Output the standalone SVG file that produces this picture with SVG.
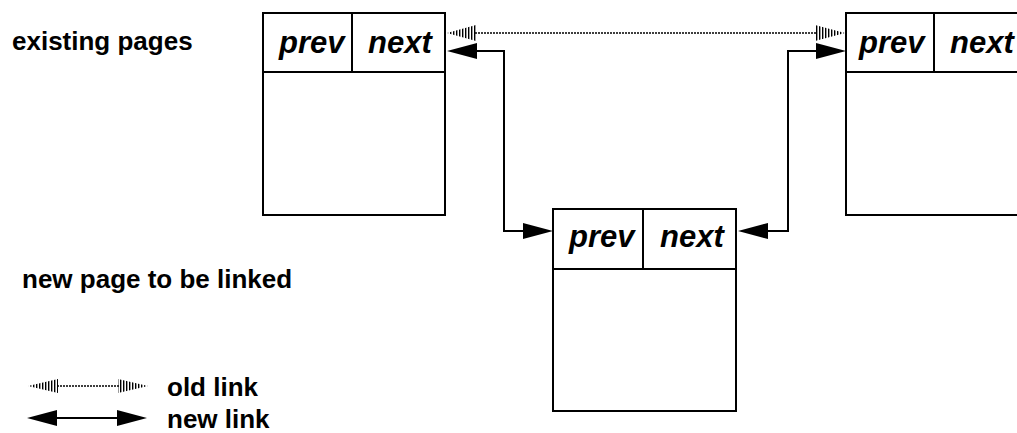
<svg xmlns="http://www.w3.org/2000/svg" width="1017" height="433" viewBox="0 0 1017 433">
<style>
.box{fill:#fff;stroke:#000;stroke-width:2}
.fld{font-family:"Liberation Sans",Arial,sans-serif;font-weight:bold;font-style:italic;font-size:31px;fill:#000}
.lbl{font-family:"Liberation Sans",Arial,sans-serif;font-weight:bold;font-size:26px;fill:#000}
.new{fill:none;stroke:#000;stroke-width:2}
.old{fill:none;stroke:#000;stroke-width:1.5;stroke-dasharray:2 1}
.head{fill:#000}
.hhead{fill:url(#hatch)}
</style>
<defs>
<pattern id="hatch" width="3" height="4" patternUnits="userSpaceOnUse"><rect width="1.4" height="4" fill="#000"/></pattern>
</defs>
<rect width="1017" height="433" fill="#fff"/>
<text class="lbl" x="12" y="50">existing pages</text>
<text class="lbl" x="22" y="288">new page to be linked</text>
<g id="page1">
<rect class="box" x="263" y="13" width="182" height="202"/>
<line class="box" x1="263" y1="72" x2="445" y2="72"/>
<line class="box" x1="352" y1="13" x2="352" y2="72"/>
<text class="fld" x="279" y="53">prev</text>
<text class="fld" x="368" y="53">next</text>
</g>
<g id="page3">
<rect class="box" x="846" y="13" width="200" height="202"/>
<line class="box" x1="846" y1="72" x2="1017" y2="72"/>
<line class="box" x1="934" y1="13" x2="934" y2="72"/>
<text class="fld" x="859" y="53">prev</text>
<text class="fld" x="950" y="53">next</text>
</g>
<g id="page2">
<rect class="box" x="553" y="209" width="183" height="202"/>
<line class="box" x1="553" y1="269" x2="736" y2="269"/>
<line class="box" x1="643" y1="209" x2="643" y2="269"/>
<text class="fld" x="569" y="247">prev</text>
<text class="fld" x="660" y="247">next</text>
</g>
<g id="connectors">
<line class="old" x1="475" y1="33" x2="816" y2="33"/>
<polygon class="hhead" points="447,33 476,25 476,41"/>
<polygon class="hhead" points="845,33 815,25 815,41"/>
<polyline class="new" points="476,51 504,51 504,231 524,231"/>
<polygon class="head" points="447,51 477,43 477,59"/>
<polygon class="head" points="553,231 523,223 523,239"/>
<polyline class="new" points="766,231 788,231 788,51 818,51"/>
<polygon class="head" points="738,231 768,223 768,239"/>
<polygon class="head" points="846,51 816,43 816,59"/>
</g>
<g id="legend">
<line class="old" x1="57" y1="386" x2="119" y2="386"/>
<polygon class="hhead" points="28,386 58,379 58,393"/>
<polygon class="hhead" points="148,386 118,379 118,393"/>
<text class="lbl" x="167" y="396">old link</text>
<line class="new" x1="56" y1="418" x2="120" y2="418"/>
<polygon class="head" points="27,418 57,410 57,426"/>
<polygon class="head" points="147,418 117,410 117,426"/>
<text class="lbl" x="167" y="428">new link</text>
</g>
</svg>
